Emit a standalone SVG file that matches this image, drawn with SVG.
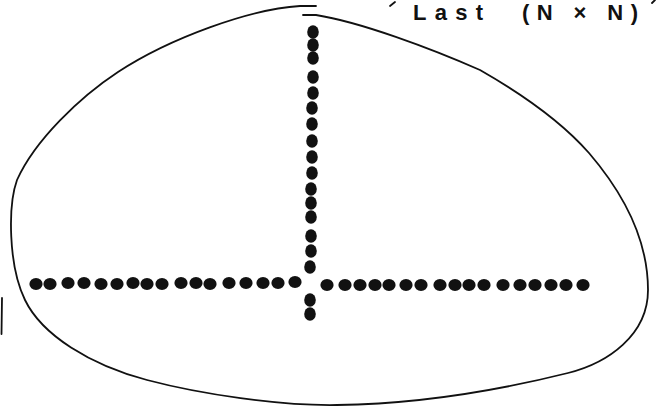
<svg xmlns="http://www.w3.org/2000/svg" xmlns:xlink="http://www.w3.org/1999/xlink" width="660" height="410" viewBox="0 0 660 410">
<defs>
<style>
.ln{fill:none;stroke:#111;stroke-width:1.8;stroke-linecap:round;stroke-linejoin:round}
.lbl{font-family:"Liberation Sans","DejaVu Sans",sans-serif;font-size:22px;font-weight:bold;fill:#111}
.dot{fill:#111}
</style>
<ellipse id="d" class="dot" cx="0" cy="0" rx="5.8" ry="6.8"/>
<ellipse id="h" class="dot" cx="0" cy="0" rx="6.6" ry="6"/>
</defs>
<rect width="660" height="410" fill="#fff"/>
<g id="outline">
<path class="ln" d="M316,6 L300,6 C250,9 170,38 118,72 C80,97 35,140 17,180 C8,205 8,265 25,300 C42,335 90,365 147,380 C200,394 280,406 337,405 C420,404 500,390 568,373 C608,363 648,335 648,290 C648,240 625,195 589,153 C560,120 515,90 480,70 C430,48 360,22 316,15 L303,15"/>
<path class="ln" d="M2,298 L1.5,334"/>
</g>
<g id="label">
<path class="ln" d="M390,6 L395,2"/>
<text class="lbl" x="413" y="20" textLength="70" lengthAdjust="spacing">Last</text>
<text class="lbl" x="522" y="20" textLength="116" lengthAdjust="spacing">(N × N)</text>
<path class="ln" d="M652,3 L655,0"/>
</g>
<g id="vertical-dots">
<use xlink:href="#d" x="313" y="32"/>
<use xlink:href="#d" x="313" y="45"/>
<use xlink:href="#d" x="313" y="58"/>
<use xlink:href="#d" x="313" y="77"/>
<use xlink:href="#d" x="313" y="93"/>
<use xlink:href="#d" x="312" y="108"/>
<use xlink:href="#d" x="312" y="124"/>
<use xlink:href="#d" x="312" y="141"/>
<use xlink:href="#d" x="312" y="157"/>
<use xlink:href="#d" x="312" y="173"/>
<use xlink:href="#d" x="311" y="189"/>
<use xlink:href="#d" x="311" y="203"/>
<use xlink:href="#d" x="311" y="217"/>
<use xlink:href="#d" x="311" y="236"/>
<use xlink:href="#d" x="311" y="251"/>
<use xlink:href="#d" x="310" y="267"/>
<use xlink:href="#d" x="310" y="300"/>
<use xlink:href="#d" x="310" y="314"/>
</g>
<g id="horizontal-dots">
<use xlink:href="#h" x="36" y="284"/>
<use xlink:href="#h" x="50" y="284"/>
<use xlink:href="#h" x="68" y="283"/>
<use xlink:href="#h" x="84" y="283"/>
<use xlink:href="#h" x="101" y="284"/>
<use xlink:href="#h" x="117" y="284"/>
<use xlink:href="#h" x="133" y="283"/>
<use xlink:href="#h" x="147" y="284"/>
<use xlink:href="#h" x="162" y="284"/>
<use xlink:href="#h" x="181" y="283"/>
<use xlink:href="#h" x="196" y="283"/>
<use xlink:href="#h" x="210" y="284"/>
<use xlink:href="#h" x="229" y="283"/>
<use xlink:href="#h" x="246" y="283"/>
<use xlink:href="#h" x="263" y="283"/>
<use xlink:href="#h" x="278" y="283"/>
<use xlink:href="#h" x="295" y="282"/>
<use xlink:href="#h" x="327" y="285"/>
<use xlink:href="#h" x="345" y="285"/>
<use xlink:href="#h" x="360" y="285"/>
<use xlink:href="#h" x="375" y="285"/>
<use xlink:href="#h" x="389" y="285"/>
<use xlink:href="#h" x="406" y="285"/>
<use xlink:href="#h" x="421" y="285"/>
<use xlink:href="#h" x="440" y="285"/>
<use xlink:href="#h" x="455" y="285"/>
<use xlink:href="#h" x="469" y="285"/>
<use xlink:href="#h" x="484" y="285"/>
<use xlink:href="#h" x="503" y="285"/>
<use xlink:href="#h" x="520" y="285"/>
<use xlink:href="#h" x="535" y="285"/>
<use xlink:href="#h" x="551" y="285"/>
<use xlink:href="#h" x="566" y="285"/>
<use xlink:href="#h" x="583" y="285"/>
</g>
</svg>
